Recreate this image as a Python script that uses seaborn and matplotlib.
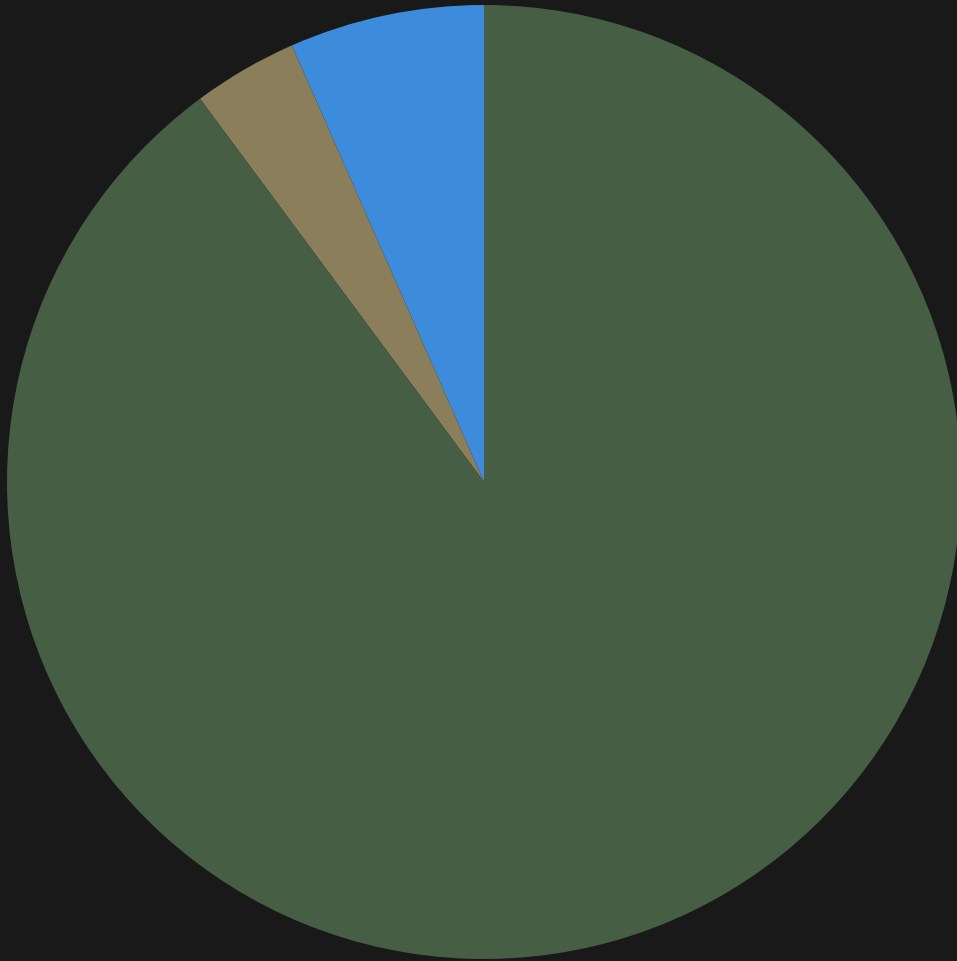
import matplotlib
matplotlib.use("Agg")
import matplotlib.pyplot as plt
import seaborn as sns

# ---- Data -------------------------------------------####
categories = ['Blue', 'Tan', 'Green']
shares = [6.6, 3.55, 89.85]
colors = ['#3d8bdb', '#8a7f5a', '#455e44']

# ---- Plot -------------------------------------------####
sns.set_style('dark')
bg = '#191919'

fig = plt.figure(figsize=(9.57, 9.62), dpi=100, facecolor=bg)
ax = fig.add_axes([0, 0, 1, 1])
ax.set_facecolor(bg)

ax.pie(shares, labels=None, colors=colors, startangle=90, counterclock=True,
       radius=1.0, wedgeprops=dict(linewidth=0))

# place pie centre/radius like the reference
r_px = 477.0
ax.set_xlim(-484 / r_px, -484 / r_px + 957 / r_px)
ax.set_ylim(-479 / r_px, -479 / r_px + 962 / r_px)
ax.set_aspect('auto')
ax.axis('off')

plt.savefig('out.png', dpi=100, facecolor=bg)
